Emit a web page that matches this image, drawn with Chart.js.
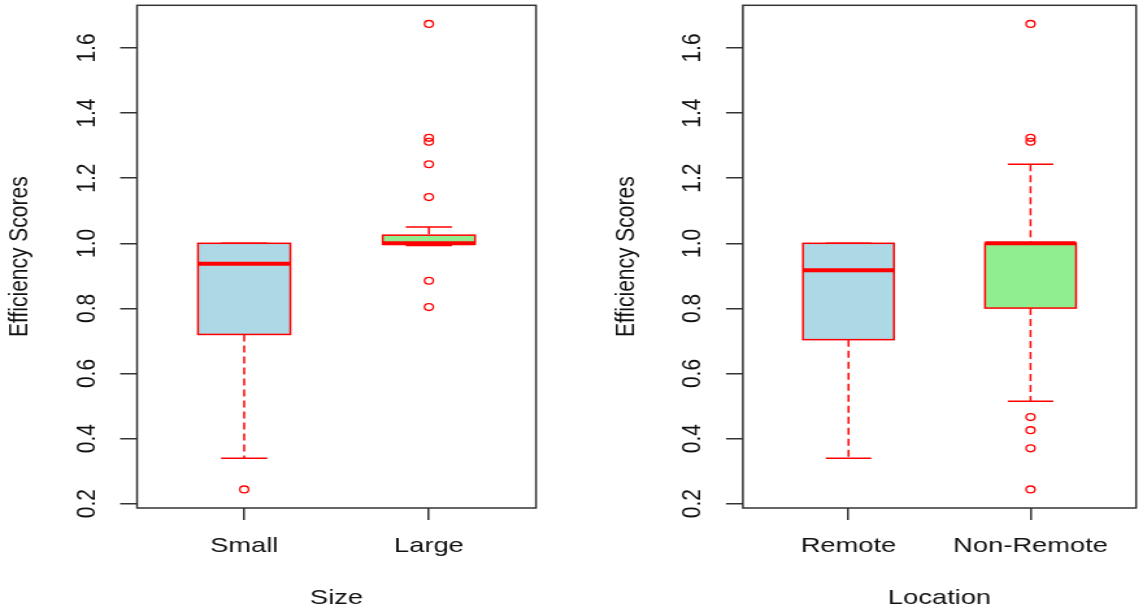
<!DOCTYPE html>
<html lang="en">

<head>
    <meta charset="UTF-8">
    <title>Efficiency Scores by Size and Location</title>
    <script src="https://cdn.jsdelivr.net/npm/chart.js"></script>
    <style>
        body {
            margin: 0;
            background-color: white;
        }

        .row {
            display: flex;
            width: 1138px;
            height: 611px;
            overflow: hidden;
        }

        /* the original R picture is stretched sideways, so the canvases are too */
        canvas {
            display: block;
            flex: none;
            height: 611px !important;
        }

        #sizeChart {
            width: 569px !important;
        }

        #locationChart {
            width: 574px !important;
        }
    </style>
</head>

<body>
    <div class="row">
        <canvas id="sizeChart" width="438" height="611"></canvas>
        <canvas id="locationChart" width="442" height="611"></canvas>
    </div>

    <script>
        // y axis shared by both panels
        const yTicks = [0.2, 0.4, 0.6, 0.8, 1.0, 1.2, 1.4, 1.6];
        const yMin = 0.1868;
        const yMax = 1.7312;

        // left panel: Size
        const sizeLabels = ['Small', 'Large'];
        const sizeWhiskerLow = [0.34, 0.993];
        const sizeQ1 = [0.72, 0.997];
        const sizeMedian = [0.937, 1.0];
        const sizeQ3 = [1.0, 1.025];
        const sizeWhiskerHigh = [1.0, 1.05];
        const sizeOutliers = [
            [0.244],
            [1.674, 1.324, 1.312, 1.243, 1.142, 0.885, 0.804]
        ];

        // right panel: Location
        const locationLabels = ['Remote', 'Non-Remote'];
        const locationWhiskerLow = [0.34, 0.515];
        const locationQ1 = [0.704, 0.801];
        const locationMedian = [0.917, 1.0];
        const locationQ3 = [1.0, 1.0];
        const locationWhiskerHigh = [1.0, 1.243];
        const locationOutliers = [
            [],
            [1.674, 1.324, 1.312, 0.466, 0.426, 0.370, 0.244]
        ];

        const boxFills = ['#ADD8E6', '#90EE90'];
        const RED = '#ff0000';
        const AXIS = '#333333';
        const TEXT = '#111111';

        Chart.defaults.font.family = "'Liberation Sans', Arial, sans-serif";
        Chart.defaults.font.size = 21;
        Chart.defaults.color = TEXT;

        function line(ctx, x1, y1, x2, y2) {
            ctx.beginPath();
            ctx.moveTo(x1, y1);
            ctx.lineTo(x2, y2);
            ctx.stroke();
        }

        function boxPlugin(stats) {
            return {
                id: 'boxes',
                beforeDatasetsDraw(chart) {
                    const ctx = chart.ctx;
                    const x = chart.scales.x;
                    const y = chart.scales.y;
                    ctx.save();
                    stats.labels.forEach(function (label, i) {
                        const pos = i + 1;
                        const left = x.getPixelForValue(pos - 0.25);
                        const right = x.getPixelForValue(pos + 0.25);
                        const capLeft = x.getPixelForValue(pos - 0.125);
                        const capRight = x.getPixelForValue(pos + 0.125);
                        const mid = x.getPixelForValue(pos);
                        const top = y.getPixelForValue(stats.q3[i]);
                        const bottom = y.getPixelForValue(stats.q1[i]);
                        const hi = y.getPixelForValue(stats.whiskerHigh[i]);
                        const lo = y.getPixelForValue(stats.whiskerLow[i]);
                        const med = y.getPixelForValue(stats.median[i]);

                        ctx.fillStyle = boxFills[i];
                        ctx.fillRect(left, top, right - left, bottom - top);
                        ctx.strokeStyle = RED;
                        ctx.lineWidth = 1.5;
                        ctx.strokeRect(left, top, right - left, bottom - top);

                        ctx.setLineDash([7, 4]);
                        line(ctx, mid, hi, mid, top);
                        line(ctx, mid, bottom, mid, lo);
                        ctx.setLineDash([]);
                        line(ctx, capLeft, hi, capRight, hi);
                        line(ctx, capLeft, lo, capRight, lo);

                        ctx.lineWidth = 4;
                        line(ctx, left, med, right, med);
                    });
                    ctx.restore();
                },
                afterDraw(chart) {
                    const a = chart.chartArea;
                    const ctx = chart.ctx;
                    ctx.save();
                    ctx.strokeStyle = AXIS;
                    ctx.lineWidth = 1.5;
                    ctx.strokeRect(a.left, a.top, a.right - a.left, a.bottom - a.top);
                    ctx.restore();
                }
            };
        }

        function makeChart(id, title, stats, padLeft, padRight) {
            const points = [];
            stats.outliers.forEach(function (list, i) {
                list.forEach(function (v) {
                    points.push({ x: i + 1, y: v });
                });
            });
            const config = {
                type: 'scatter',
                data: {
                    datasets: [{
                        data: points,
                        pointStyle: 'circle',
                        pointRadius: 3.4,
                        borderWidth: 1.3,
                        borderColor: RED,
                        backgroundColor: 'rgba(0,0,0,0)'
                    }]
                },
                options: {
                    responsive: false,
                    devicePixelRatio: 1,
                    animation: false,
                    events: [],
                    layout: {
                        padding: { top: 5, right: padRight, bottom: 0, left: padLeft }
                    },
                    plugins: {
                        legend: { display: false },
                        tooltip: { enabled: false }
                    },
                    scales: {
                        x: {
                            type: 'linear',
                            min: 0.42,
                            max: 2.58,
                            bounds: 'data',
                            afterBuildTicks: function (s) {
                                s.ticks = stats.labels.map(function (l, i) { return { value: i + 1 }; });
                            },
                            afterFit: function (s) {
                                s.height = 103;
                                s.paddingLeft = s.paddingRight = s.paddingTop = s.paddingBottom = 0;
                            },
                            ticks: {
                                autoSkip: false,
                                minRotation: 0,
                                maxRotation: 0,
                                padding: 14,
                                callback: function (v, i) { return stats.labels[i]; }
                            },
                            grid: { drawOnChartArea: false, tickLength: 12, color: AXIS, lineWidth: 1.5 },
                            border: { display: false },
                            title: { display: true, text: title, padding: { top: 0, bottom: 0 } }
                        },
                        y: {
                            type: 'linear',
                            min: yMin,
                            max: yMax,
                            bounds: 'data',
                            afterBuildTicks: function (s) {
                                s.ticks = yTicks.map(function (v) { return { value: v }; });
                            },
                            afterFit: function (s) {
                                s.width = 105.5;
                                s.paddingLeft = s.paddingRight = s.paddingTop = s.paddingBottom = 0;
                            },
                            ticks: {
                                minRotation: 90,
                                maxRotation: 90,
                                crossAlign: 'center',
                                padding: 11,
                                callback: function (v) { return v.toFixed(1); }
                            },
                            grid: { drawOnChartArea: false, tickLength: 13, color: AXIS, lineWidth: 1.5 },
                            border: { display: false },
                            title: { display: true, text: 'Efficiency Scores', padding: { top: 3, bottom: 0 } }
                        }
                    }
                },
                plugins: [boxPlugin(stats)]
            };
            return new Chart(document.getElementById(id), config);
        }

        makeChart('sizeChart', 'Size', {
            labels: sizeLabels,
            whiskerLow: sizeWhiskerLow,
            q1: sizeQ1,
            median: sizeMedian,
            q3: sizeQ3,
            whiskerHigh: sizeWhiskerHigh,
            outliers: sizeOutliers
        }, 0, 25.4);

        makeChart('locationChart', 'Location', {
            labels: locationLabels,
            whiskerLow: locationWhiskerLow,
            q1: locationQ1,
            median: locationMedian,
            q3: locationQ3,
            whiskerHigh: locationWhiskerHigh,
            outliers: locationOutliers
        }, 28.4, 0.9);
    </script>
</body>

</html>
